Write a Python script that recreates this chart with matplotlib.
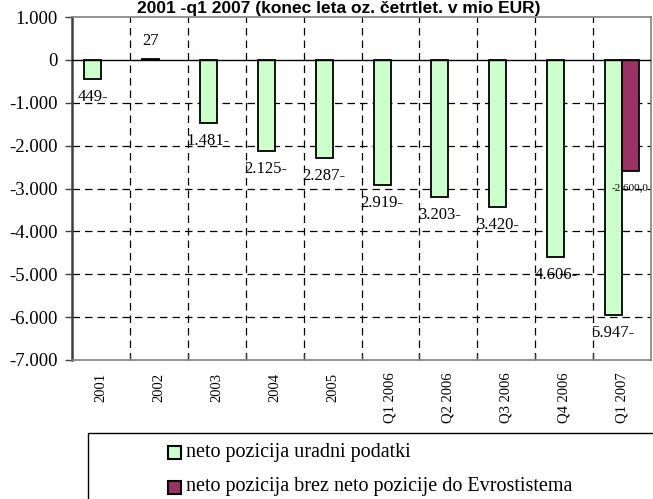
import matplotlib
matplotlib.use("Agg")
import matplotlib.pyplot as plt
from matplotlib.patches import Rectangle
import numpy as np

categories = ["2001", "2002", "2003", "2004", "2005",
              "Q1 2006", "Q2 2006", "Q3 2006", "Q4 2006", "Q1 2007"]
uradni = [-449, 27, -1481, -2125, -2287, -2919, -3203, -3420, -4606, -5947]
brez = [None, None, None, None, None, None, None, None, None, -2600]
legend_labels = ["neto pozicija uradni podatki",
                 "neto pozicija brez neto pozicije do Evrostistema"]
title = "2001 -q1 2007 (konec leta oz. četrtlet. v mio EUR)"
yticks = list(range(-7000, 1001, 1000))

GREEN = "#CCFFCC"
PURPLE = "#993366"
W, H = 653, 499

fig = plt.figure(figsize=(W / 100, H / 100), dpi=100)
ax = fig.add_axes([72 / W, 1 - 360 / H, (651 - 72) / W, (360 - 17) / H])

x = np.arange(len(categories))
bw = 0.295
off = 0.145

ax.bar(x - off, uradni, width=bw, color=GREEN, edgecolor="black", linewidth=1.3, zorder=3)
bx = [i for i, v in enumerate(brez) if v is not None]
bv = [v for v in brez if v is not None]
ax.bar(np.array(bx) + off, bv, width=bw, color=PURPLE, edgecolor="black", linewidth=1.3, zorder=3)


def fmt(v):
    if v < 0:
        return f"{abs(v):,}".replace(",", ".") + "-"
    return str(v)


serif = "Liberation Serif"
for i, v in enumerate(uradni):
    dy = -18 if v < 0 else 18
    ax.annotate(fmt(v), (i - off, v), xytext=(0, dy), textcoords="offset pixels",
                ha="center", va="center", fontsize=12, family=serif, zorder=5)
for i, v in zip(bx, bv):
    s = "-" + f"{abs(v):,.1f}".replace(",", "X").replace(".", ",").replace("X", ".")
    ax.annotate(s, (i + off, v), xytext=(0, -16), textcoords="offset pixels",
                ha="center", va="center", fontsize=8, family=serif, zorder=5,
                annotation_clip=False)

ax.set_xlim(-0.5, len(categories) - 0.5)
ax.set_ylim(-7000, 1000)

# gridlines
for yv in range(-6000, 0, 1000):
    ax.axhline(yv, color="black", linestyle=(0, (6, 4)), linewidth=0.9, zorder=1)
for xv in np.arange(0.5, len(categories) - 1, 1.0):
    ax.axvline(xv, color="black", linestyle=(0, (6, 4)), linewidth=0.9, zorder=1)
ax.axhline(0, color="black", linewidth=1.0, zorder=4)

ax.set_yticks(yticks)
ax.set_yticklabels([f"{v:,}".replace(",", ".") for v in yticks], family=serif, fontsize=13.5)
ax.tick_params(axis="y", direction="out", length=5, width=1, pad=5.5, color="#404040")

ax.set_xticks(x)
ax.set_xticklabels(categories, rotation=90, family=serif, fontsize=10.5, va="top", ha="center")
ax.tick_params(axis="x", length=0, pad=9)
ax.set_xticks(np.arange(0.5, len(categories) - 1, 1.0), minor=True)
ax.tick_params(axis="x", which="minor", direction="in", length=4, width=1, color="#404040")

for s in ["top", "right", "bottom"]:
    ax.spines[s].set_color("#808080")
    ax.spines[s].set_linewidth(1.2)
ax.spines["left"].set_color("#404040")
ax.spines["left"].set_linewidth(1.8)

# title
fig.text(339 / W, 1 - 12.5 / H, title, ha="center", va="baseline",
         family="Liberation Sans", fontweight="bold", fontsize=12.5)

# legend drawn manually
fig.patches.append(Rectangle((88 / W, -0.05), 1.0, (499 - 433) / H + 0.05,
                             transform=fig.transFigure, facecolor="white",
                             edgecolor="black", linewidth=1.0))
for lab, col, yc in zip(legend_labels, [GREEN, PURPLE], [452, 487]):
    fig.patches.append(Rectangle((168 / W, 1 - (yc + 6.5) / H), 13 / W, 13 / H,
                                 transform=fig.transFigure, facecolor=col,
                                 edgecolor="black", linewidth=1.5))
    fig.text(186 / W, 1 - yc / H, lab, ha="left", va="center",
             family=serif, fontsize=14.5)

fig.savefig("out.png", dpi=100)
